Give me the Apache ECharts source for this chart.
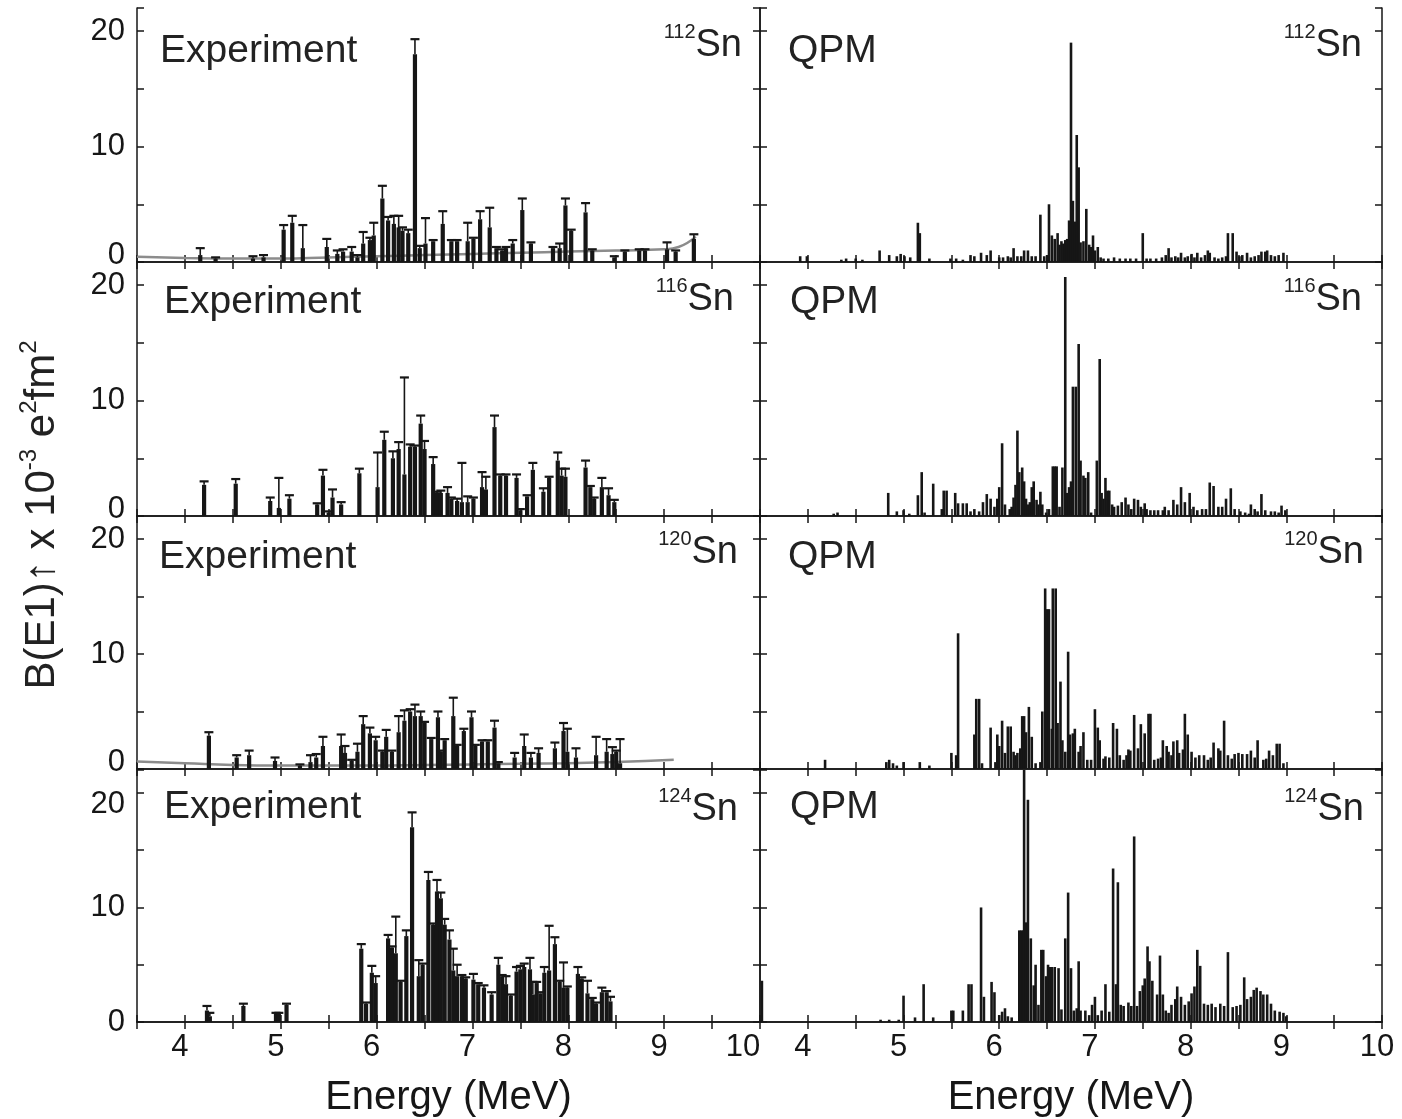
<!DOCTYPE html>
<html>
<head>
<meta charset="utf-8">
<script src="https://cdn.jsdelivr.net/npm/echarts@6/dist/echarts.min.js"></script>
<style>
html,body{margin:0;padding:0;background:#fff;}
#chart{width:1402px;height:1119px;}
</style>
</head>
<body>
<div id="chart"></div>
<script>
// ---------- DATA ----------
// Experiment: [energy (MeV), B(E1) (1e-3 e^2 fm^2), upper error]
const exp112 = [[4.16,0.6,0.6],[4.32,0.3,0.1],[4.71,0.3,0.2],[4.82,0.4,0.2],[5.03,2.8,0.4],[5.12,3.4,0.6],[5.23,1.2,2.0],
 [5.48,1.3,0.7],[5.59,0.7,0.3],[5.65,0.9,0.2],[5.74,0.9,0.4],[5.80,0.4,0.2],[5.86,1.6,1.0],[5.93,1.9,0.2],[5.97,2.3,1.1],
 [6.06,5.5,1.1],[6.12,3.6,0.3],[6.18,3.3,0.7],[6.23,3.0,1.0],[6.27,2.7,0.3],[6.33,2.5,0.3],[6.40,18.0,1.3],[6.45,1.2,0.2],
 [6.51,1.6,2.2],[6.59,1.8,0.1],[6.69,3.3,1.1],[6.78,1.8,0.1],[6.84,1.8,0.1],[6.95,1.8,1.6],[7.01,2.0,0.1],[7.08,3.7,0.7],
 [7.18,3.0,1.7],[7.25,1.2,0.1],[7.31,1.0,0.1],[7.35,1.2,0.1],[7.42,1.6,0.3],[7.52,4.5,1.0],[7.61,1.6,0.1],[7.84,1.2,0.1],
 [7.91,1.2,0.4],[7.97,4.9,0.6],[8.03,2.7,0.1],[8.18,4.3,0.8],[8.25,1.0,0.1],[8.48,0.4,0.1],[8.59,0.9,0.1],[8.74,1.0,0.1],
 [8.80,1.0,0.1],[9.03,1.1,0.6],[9.12,0.9,0.1],[9.31,2.0,0.4]];
const exp116 = [[4.20,2.7,0.3],[4.53,2.8,0.4],[4.89,1.3,0.3],[4.98,0.7,2.6],[5.09,1.5,0.3],[5.38,1.0,0.1],[5.44,3.5,0.5],
 [5.50,0.3,0.1],[5.54,1.6,0.7],[5.63,1.0,0.2],[5.82,3.7,0.4],[6.01,2.5,3.0],[6.08,6.6,0.7],[6.17,5.0,0.6],[6.23,5.8,0.6],
 [6.29,3.6,8.4],[6.35,6.0,0.2],[6.40,6.0,0.1],[6.46,8.0,0.7],[6.50,5.8,0.7],[6.59,4.5,0.6],[6.63,2.0,0.1],[6.67,2.0,0.2],
 [6.74,2.0,0.5],[6.78,1.5,0.1],[6.84,1.3,0.2],[6.89,1.2,3.4],[6.95,1.2,0.5],[7.01,1.5,0.1],[7.10,2.5,1.3],[7.14,2.3,1.1],
 [7.23,7.7,1.0],[7.29,3.5,0.1],[7.35,3.5,0.1],[7.46,3.3,0.3],[7.50,0.5,0.1],[7.57,1.7,0.1],[7.63,4.0,0.6],[7.74,2.1,0.3],
 [7.80,3.3,0.1],[7.89,4.8,0.7],[7.93,3.5,0.6],[7.97,3.4,0.7],[8.18,4.2,0.6],[8.23,2.5,0.1],[8.27,1.5,0.1],[8.35,2.5,0.8],
 [8.42,1.8,0.6],[8.48,1.2,0.2]];
const exp120 = [[4.25,2.9,0.3],[4.54,1.0,0.2],[4.67,1.2,0.4],[4.94,0.7,0.3],[5.20,0.3,0.1],[5.31,0.6,0.6],[5.37,1.0,0.3],
 [5.44,2.0,0.8],[5.63,2.0,1.0],[5.67,1.4,0.6],[5.74,0.7,0.1],[5.80,1.5,0.7],[5.86,3.9,0.7],[5.93,3.1,0.5],[5.99,2.5,0.3],
 [6.06,1.5,0.1],[6.10,2.8,0.6],[6.16,1.5,0.1],[6.23,3.2,1.4],[6.29,4.2,0.9],[6.35,5.0,0.2],[6.40,4.6,1.0],[6.46,4.6,0.4],
 [6.50,4.0,0.1],[6.57,2.6,0.1],[6.64,4.5,0.5],[6.67,1.5,0.1],[6.71,2.5,0.1],[6.80,4.6,1.6],[6.84,2.0,0.1],[6.91,3.3,0.2],
 [6.99,4.5,0.5],[7.03,2.0,0.1],[7.10,2.4,0.1],[7.16,2.4,0.1],[7.23,3.6,0.6],[7.27,0.5,0.1],[7.44,1.0,0.4],[7.54,2.0,1.0],
 [7.61,1.0,0.4],[7.69,1.4,0.4],[7.86,1.8,0.5],[7.95,3.3,0.7],[7.99,1.5,2.0],[8.08,1.0,0.8],[8.29,1.2,1.6],[8.40,1.5,1.1],
 [8.46,1.3,0.6],[8.50,1.5,0.1],[8.54,0.5,2.1]];
const exp124 = [[4.23,1.0,0.4],[4.26,0.5,0.3],[4.61,1.4,0.2],[4.95,0.7,0.1],[4.98,0.7,0.1],[5.06,1.5,0.1],[5.84,6.4,0.4],
 [5.89,1.6,0.1],[5.95,4.3,0.6],[5.99,3.4,0.6],[6.12,7.3,0.3],[6.16,6.5,0.1],[6.20,6.0,3.2],[6.25,3.5,0.1],[6.31,7.5,0.5],
 [6.37,17.0,1.3],[6.44,4.0,1.4],[6.48,5.0,0.1],[6.54,12.4,0.7],[6.59,8.5,0.1],[6.63,11.4,1.0],[6.67,10.8,0.5],[6.71,8.5,0.5],
 [6.76,7.2,0.8],[6.80,4.5,1.9],[6.84,4.0,1.0],[6.89,4.0,0.1],[6.93,3.8,0.1],[7.01,3.7,0.5],[7.06,3.3,0.1],[7.12,3.0,0.2],
 [7.20,2.4,0.2],[7.27,5.0,0.6],[7.31,4.0,0.1],[7.35,3.3,0.7],[7.40,2.3,0.1],[7.46,4.4,0.4],[7.50,4.6,0.3],[7.54,4.8,0.3],
 [7.60,4.6,1.0],[7.63,2.4,1.1],[7.67,3.4,0.1],[7.71,2.5,0.1],[7.75,4.3,0.5],[7.80,4.5,3.9],[7.86,6.8,0.6],[7.91,3.5,0.1],
 [7.95,3.0,2.2],[7.99,3.0,0.1],[8.10,4.2,0.6],[8.14,3.8,0.1],[8.20,2.5,1.1],[8.25,2.0,0.1],[8.29,1.6,0.1],[8.35,2.6,0.4],
 [8.40,2.6,0.1],[8.44,1.8,0.4]];
// grey background curves of the experimental panels: [energy, value]
const bg112 = [[3.5,0.45],[4.0,0.35],[4.5,0.3],[5.0,0.3],[5.5,0.4],[6.0,0.5],[6.5,0.6],[7.0,0.7],[7.5,0.8],[8.0,0.9],
 [8.5,1.0],[9.0,1.1],[9.15,1.3],[9.33,2.2]];
const bg120 = [[3.5,0.65],[4.0,0.5],[4.5,0.35],[5.0,0.3],[5.5,0.3],[6.0,0.3],[6.5,0.35],[7.0,0.4],[7.5,0.45],[8.0,0.5],
 [8.5,0.6],[9.1,0.8]];
// QPM: [energy (MeV), B(E1)]
const qpm112 = [[3.92,0.5],[3.99,0.5],[4.35,0.2],[4.40,0.3],[4.50,0.3],[4.57,0.2],[4.75,1.0],[4.85,0.6],[4.93,0.5],[4.97,0.7],
 [5.01,0.5],[5.07,0.4],[5.15,3.4],[5.17,2.5],[5.27,0.3],[5.49,0.3],[5.55,0.3],[5.62,0.2],[5.70,0.6],[5.74,0.5],[5.81,0.8],
 [5.87,0.6],[5.91,1.0],[6.00,0.4],[6.04,0.4],[6.09,0.5],[6.12,0.4],[6.15,1.2],[6.19,0.5],[6.23,0.5],[6.26,1.0],[6.30,1.0],
 [6.34,0.5],[6.38,0.5],[6.43,4.1],[6.47,0.5],[6.50,0.6],[6.52,5.0],[6.55,2.3],[6.58,2.0],[6.61,2.5],[6.63,1.5],[6.65,1.8],
 [6.67,1.6],[6.69,1.9],[6.71,2.0],[6.73,3.6],[6.75,19.0],[6.77,5.3],[6.79,3.5],[6.81,11.0],[6.83,8.2],[6.85,1.7],[6.88,1.8],
 [6.91,4.6],[6.94,1.5],[6.96,1.3],[6.98,2.3],[7.00,1.0],[7.03,1.3],[7.06,0.4],[7.09,0.3],[7.14,0.3],[7.20,0.4],[7.26,0.3],
 [7.32,0.3],[7.37,0.3],[7.43,0.3],[7.50,2.5],[7.54,0.3],[7.58,0.3],[7.64,0.3],[7.70,0.4],[7.74,0.6],[7.77,1.2],[7.80,0.4],
 [7.84,0.5],[7.87,0.4],[7.90,0.8],[7.94,0.4],[7.97,0.5],[8.01,0.7],[8.04,0.4],[8.07,0.8],[8.11,0.4],[8.15,0.6],[8.18,1.0],
 [8.20,0.8],[8.25,0.4],[8.29,0.3],[8.33,0.4],[8.37,0.5],[8.39,2.5],[8.44,2.5],[8.48,0.9],[8.51,0.5],[8.54,0.6],[8.59,0.8],
 [8.63,0.4],[8.67,0.5],[8.71,0.6],[8.74,0.9],[8.78,0.9],[8.80,1.0],[8.84,0.6],[8.88,0.5],[8.92,0.6],[8.97,0.8]];
const qpm116 = [[4.27,0.2],[4.31,0.3],[4.84,2.0],[4.93,0.4],[5.00,0.5],[5.06,0.2],[5.15,1.8],[5.19,3.8],[5.22,0.3],[5.31,2.8],
 [5.40,0.6],[5.42,2.2],[5.45,2.2],[5.54,2.0],[5.57,1.1],[5.62,1.1],[5.66,1.1],[5.70,0.4],[5.74,0.6],[5.79,0.4],[5.83,1.2],
 [5.87,1.9],[5.91,1.5],[5.95,0.8],[5.98,1.5],[6.00,2.5],[6.03,6.3],[6.06,1.0],[6.11,0.6],[6.13,0.8],[6.15,1.6],[6.17,2.7],
 [6.19,7.4],[6.21,3.8],[6.24,4.2],[6.26,3.0],[6.28,1.5],[6.30,1.0],[6.32,1.2],[6.34,2.5],[6.36,3.0],[6.39,1.4],[6.41,1.0],
 [6.43,2.1],[6.45,1.0],[6.49,0.3],[6.52,0.6],[6.56,4.3],[6.58,4.3],[6.60,4.3],[6.63,0.8],[6.66,4.2],[6.69,20.7],[6.71,2.0],
 [6.73,2.5],[6.75,3.0],[6.77,11.2],[6.80,11.2],[6.83,14.9],[6.85,4.8],[6.88,3.5],[6.90,3.3],[6.93,3.8],[6.96,0.3],[7.02,4.8],
 [7.05,13.6],[7.07,2.0],[7.09,1.5],[7.11,3.3],[7.13,2.2],[7.15,2.2],[7.18,1.0],[7.20,0.8],[7.24,0.9],[7.28,1.2],[7.32,1.6],
 [7.35,1.0],[7.38,0.6],[7.41,1.5],[7.45,1.4],[7.48,0.8],[7.52,1.1],[7.54,0.6],[7.58,0.5],[7.62,0.5],[7.66,0.5],[7.71,0.5],
 [7.73,0.8],[7.77,0.5],[7.82,1.4],[7.86,1.0],[7.90,2.5],[7.94,1.2],[7.99,2.0],[8.03,0.8],[8.07,0.5],[8.12,0.6],[8.16,0.6],
 [8.20,2.9],[8.24,2.6],[8.29,0.8],[8.33,0.8],[8.37,1.5],[8.42,2.4],[8.46,0.6],[8.52,0.4],[8.57,0.3],[8.61,0.2],[8.63,1.0],
 [8.67,0.6],[8.70,0.4],[8.74,1.9],[8.78,0.5],[8.84,0.4],[8.88,0.4],[8.92,0.3],[8.95,0.9],[8.99,0.5]];
const qpm120 = [[4.18,0.8],[4.82,0.6],[4.85,0.8],[4.89,0.5],[4.93,0.3],[5.00,0.6],[5.17,0.6],[5.27,0.3],[5.50,1.4],[5.55,1.2],
 [5.57,11.8],[5.74,3.0],[5.76,6.1],[5.79,6.1],[5.82,0.5],[5.91,3.6],[5.96,0.6],[5.98,3.0],[6.00,2.0],[6.03,4.2],[6.06,1.4],
 [6.09,3.7],[6.12,3.7],[6.15,1.5],[6.17,1.2],[6.19,1.4],[6.22,1.8],[6.24,4.6],[6.26,4.6],[6.28,3.2],[6.31,5.4],[6.34,2.8],
 [6.38,0.5],[6.43,0.6],[6.45,5.0],[6.48,15.7],[6.50,13.9],[6.52,13.9],[6.55,3.5],[6.56,15.7],[6.59,15.7],[6.61,4.0],
 [6.64,7.6],[6.66,2.5],[6.69,1.5],[6.72,10.2],[6.74,3.0],[6.77,3.1],[6.79,3.5],[6.83,1.5],[6.85,2.0],[6.88,3.2],[6.92,0.8],
 [6.96,0.8],[7.00,5.2],[7.03,3.6],[7.05,2.5],[7.09,0.9],[7.11,1.1],[7.15,1.0],[7.19,4.0],[7.23,3.5],[7.26,1.2],[7.30,0.8],
 [7.33,1.2],[7.35,1.7],[7.37,1.6],[7.41,4.7],[7.45,1.8],[7.48,3.9],[7.52,3.1],[7.56,4.8],[7.58,4.8],[7.62,0.8],[7.66,0.9],
 [7.69,1.0],[7.71,2.5],[7.75,2.0],[7.77,1.5],[7.80,1.2],[7.82,2.4],[7.86,2.5],[7.88,1.4],[7.92,1.7],[7.94,4.8],[7.97,3.0],
 [8.01,1.5],[8.05,1.0],[8.09,1.2],[8.14,1.2],[8.18,0.8],[8.21,1.0],[8.24,2.3],[8.29,1.8],[8.31,1.6],[8.35,4.2],[8.39,1.2],
 [8.43,0.9],[8.46,1.3],[8.50,1.4],[8.54,1.3],[8.59,1.3],[8.63,1.6],[8.67,1.0],[8.70,2.5],[8.76,0.8],[8.79,0.9],[8.82,1.6],
 [8.86,1.2],[8.90,2.2],[8.93,2.2],[8.97,0.5]];
const qpm124 = [[3.52,3.6],[4.76,0.2],[4.85,0.2],[4.95,0.2],[5.00,2.3],[5.12,0.4],[5.21,3.3],[5.31,0.4],[5.50,1.0],[5.52,1.0],
 [5.62,1.0],[5.68,3.3],[5.71,3.3],[5.81,10.0],[5.84,2.2],[5.92,3.5],[5.95,2.6],[6.00,0.6],[6.03,0.9],[6.06,1.2],[6.09,0.5],
 [6.13,0.4],[6.21,8.0],[6.23,8.0],[6.25,8.0],[6.26,22.0],[6.28,8.7],[6.30,19.4],[6.33,7.3],[6.36,3.2],[6.38,5.0],[6.41,1.5],
 [6.44,6.3],[6.46,6.3],[6.49,4.0],[6.51,5.0],[6.53,4.8],[6.55,4.8],[6.58,4.8],[6.62,4.7],[6.65,1.1],[6.69,7.3],[6.72,11.3],
 [6.75,4.7],[6.78,1.0],[6.81,1.2],[6.83,5.3],[6.85,1.0],[6.90,1.0],[6.94,0.6],[6.97,1.5],[7.00,2.2],[7.03,0.6],[7.07,1.0],
 [7.11,3.3],[7.15,0.9],[7.19,13.4],[7.22,3.3],[7.24,12.2],[7.27,1.5],[7.30,1.4],[7.35,1.7],[7.38,1.4],[7.41,16.2],[7.44,1.4],
 [7.47,2.7],[7.50,3.2],[7.52,3.8],[7.55,6.6],[7.57,5.3],[7.60,3.6],[7.65,2.4],[7.68,5.8],[7.71,2.4],[7.74,1.0],[7.77,0.8],
 [7.80,1.5],[7.84,2.0],[7.86,3.1],[7.90,2.2],[7.94,1.5],[7.98,1.8],[8.01,2.5],[8.04,3.1],[8.07,6.3],[8.10,4.9],[8.14,1.6],
 [8.18,1.5],[8.22,1.6],[8.26,1.3],[8.31,1.6],[8.35,1.4],[8.39,6.1],[8.44,1.3],[8.48,1.4],[8.52,1.5],[8.56,3.9],[8.59,2.0],
 [8.63,2.2],[8.66,2.8],[8.69,3.0],[8.73,2.7],[8.76,2.4],[8.80,2.4],[8.84,1.6],[8.88,1.0],[8.93,0.9],[8.97,0.8],[9.00,0.5]];

const nuclei = ['112', '116', '120', '124'];
const panelTitles = ['Experiment', 'QPM'];
const xTicks = [3.5, 10, 0.5];   // min, max, interval
const yTicks = [0, 22, 5];

// ---------- LAYOUT ----------
const FONT = '"Liberation Sans", Arial, Helvetica, sans-serif';
const INK = '#161616';
const cols = [{left: 137, width: 623}, {left: 760, width: 622}];
const rows = [{top: 8, h: 254}, {top: 262, h: 254}, {top: 516, h: 253}, {top: 770, h: 253}];
const expData = [exp112, exp116, exp120, exp124];
const qpmData = [qpm112, qpm116, qpm120, qpm124];
const bgData = [bg112, null, bg120, null];
const expTitleTop = [32, 283, 538, 788];
const snTitleTop = [22, 276, 529, 786];
const expTitleLeft = [160, 164, 159, 164];
const qpmTitleLeft = [788, 790, 788, 790];
const snRight = [[742, 1362], [734, 1362], [738, 1364], [738, 1364]];

const grids = [], xAxes = [], yAxes = [], series = [], titles = [];
const axisLine = {show: true, lineStyle: {color: INK, width: 1.5}};
const axisTick = {show: true, inside: true, length: 7, lineStyle: {color: INK, width: 1.5}};

function barItem(w) {
  return function (params, api) {
    const x = api.value(0), y = api.value(1);
    const b = api.coord([x, 0]);
    const t = api.coord([x, y]);
    return {type: 'rect', shape: {x: b[0] - w / 2, y: t[1], width: w, height: b[1] - t[1]},
      style: {fill: INK}};
  };
}
function errItem(params, api) {
  const x = api.value(0), y = api.value(1), e = api.value(2);
  const p1 = api.coord([x, y]);
  const p2 = api.coord([x, y + e]);
  return {type: 'group', children: [
    {type: 'line', shape: {x1: p1[0], y1: p1[1], x2: p2[0], y2: p2[1]}, style: {stroke: INK, lineWidth: 1.6}},
    {type: 'line', shape: {x1: p2[0] - 4.5, y1: p2[1], x2: p2[0] + 4.5, y2: p2[1]}, style: {stroke: INK, lineWidth: 2.2}}
  ]};
}

for (let r = 0; r < 4; r++) {
  for (let c = 0; c < 2; c++) {
    const g = r * 2 + c;
    grids.push({left: cols[c].left, top: rows[r].top, width: cols[c].width, height: rows[r].h});
    const lastRow = r === 3;
    xAxes.push({
      gridIndex: g, type: 'value', position: 'bottom', min: xTicks[0], max: xTicks[1], interval: xTicks[2],
      axisLine, axisTick, splitLine: {show: false},
      axisLabel: {
        show: lastRow, margin: 10, color: INK, fontFamily: FONT,
        formatter: function (v) {
          if (!Number.isInteger(v)) return '';
          if (v === 10 && c === 0) return '{s|10}';
          return '{n|' + v + '}';
        },
        rich: {
          n: {fontSize: 31, fontFamily: FONT, color: INK, padding: [0, 10, 0, 0]},
          s: {fontSize: 31, fontFamily: FONT, color: INK, padding: [0, 34, 0, 0]}
        }
      },
      name: lastRow ? 'Energy (MeV)' : '', nameLocation: 'middle', nameGap: 56,
      nameTextStyle: {fontSize: 40, color: INK, fontFamily: FONT}
    });
    xAxes.push({
      gridIndex: g, type: 'value', position: 'top', min: xTicks[0], max: xTicks[1], interval: xTicks[2],
      axisLine, axisTick, axisLabel: {show: false}, splitLine: {show: false}
    });
    yAxes.push({
      gridIndex: g, type: 'value', position: 'left', min: yTicks[0], max: yTicks[1], interval: yTicks[2],
      axisLine, axisTick, splitLine: {show: false},
      axisLabel: {
        show: c === 0, margin: 12, color: INK, fontFamily: FONT,
        formatter: function (v) {
          if (v === 0) return r < 3 ? '{z|0}' : '{n|0}';
          if (v === 20) return r === 3 ? '{d|20}' : '{n|20}';
          if (v === 10) return '{n|10}';
          return '';
        },
        rich: {
          n: {fontSize: 31, fontFamily: FONT, color: INK},
          z: {fontSize: 31, fontFamily: FONT, color: INK, padding: [0, 0, 14, 0]},
          d: {fontSize: 31, fontFamily: FONT, color: INK, padding: [24, 0, 0, 0]}
        }
      }
    });
    yAxes.push({
      gridIndex: g, type: 'value', position: 'right', min: yTicks[0], max: yTicks[1], interval: yTicks[2],
      axisLine, axisTick, axisLabel: {show: false}, splitLine: {show: false}
    });
    const xi = 2 * g, yi = 2 * g;
    if (c === 0) {
      if (bgData[r]) {
        series.push({type: 'line', xAxisIndex: xi, yAxisIndex: yi, data: bgData[r], smooth: true,
          showSymbol: false, lineStyle: {color: '#8c8c8c', width: 2.5}, z: 1, silent: true});
      }
      series.push({type: 'custom', xAxisIndex: xi, yAxisIndex: yi, data: expData[r],
        encode: {x: 0, y: 1}, renderItem: barItem(4.2), clip: true, z: 2, silent: true});
      series.push({type: 'custom', xAxisIndex: xi, yAxisIndex: yi, data: expData[r],
        encode: {x: 0, y: 1}, renderItem: errItem, clip: true, z: 3, silent: true});
    } else {
      series.push({type: 'custom', xAxisIndex: xi, yAxisIndex: yi, data: qpmData[r],
        encode: {x: 0, y: 1}, renderItem: barItem(2.6), clip: true, z: 2, silent: true});
    }
    // panel labels
    titles.push({
      text: panelTitles[c], left: c === 0 ? expTitleLeft[r] : qpmTitleLeft[r], top: expTitleTop[r], padding: 0,
      textStyle: {fontSize: 39, lineHeight: 39, fontWeight: 'normal', color: '#222', fontFamily: FONT}
    });
    titles.push({
      text: '{a|' + nuclei[r] + '}{b|Sn}', right: 1402 - snRight[r][c], top: snTitleTop[r], padding: 0,
      textStyle: {
        fontWeight: 'normal',
        rich: {
          a: {fontSize: 20, lineHeight: 20, verticalAlign: 'top', fontWeight: 'normal', color: '#222', fontFamily: FONT},
          b: {fontSize: 38, lineHeight: 42, padding: [6, 0, 0, 0], fontWeight: 'normal', color: '#222', fontFamily: FONT}
        }
      }
    });
  }
}

const chart = echarts.init(document.getElementById('chart'), null, {renderer: 'canvas'});
chart.setOption({
  animation: false,
  backgroundColor: '#fff',
  textStyle: {fontFamily: FONT},
  title: titles,
  grid: grids,
  xAxis: xAxes,
  yAxis: yAxes,
  series: series,
  graphic: [{
    type: 'text', x: 42, y: 515, rotation: Math.PI / 2,
    style: {
      text: 'B(E1)\u2191 x 10{s|-3} e{s|2}fm{s|2}',
      fontSize: 42, lineHeight: 50, fontFamily: FONT, fill: '#222', align: 'center', verticalAlign: 'middle',
      rich: {s: {fontSize: 24, lineHeight: 24, verticalAlign: 'top', fontFamily: FONT, fill: '#222'}}
    }
  }]
});
</script>
</body>
</html>
